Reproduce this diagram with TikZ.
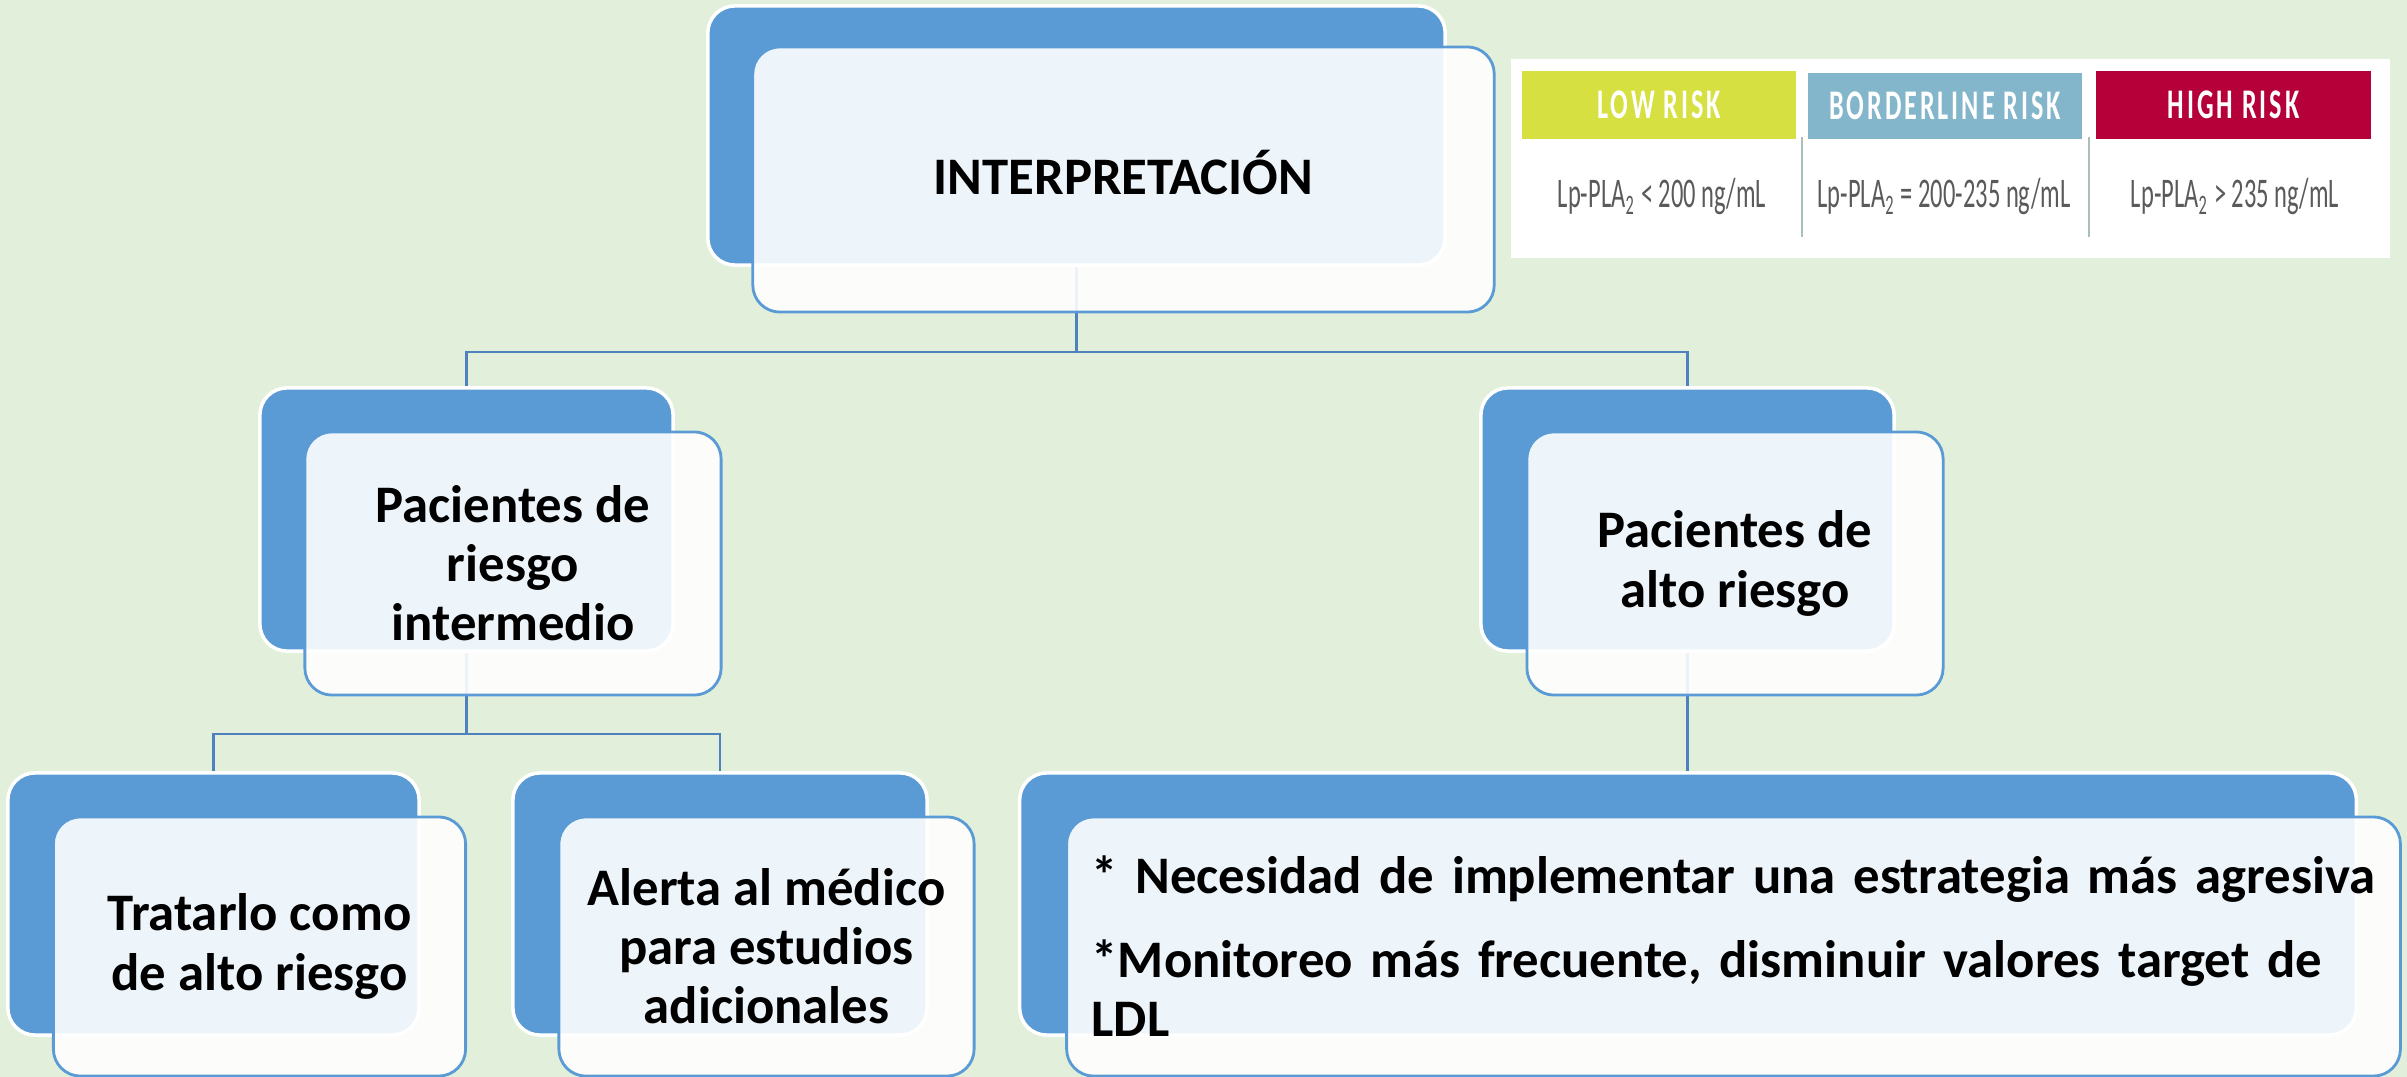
\documentclass[tikz,border=0pt]{standalone}
\usepackage{fontspec}
\setmainfont{Carlito}
\newfontfamily\riskhead[FakeStretch=0.62,LetterSpace=7]{Carlito}
\newfontfamily\riskval[FakeStretch=0.58]{Carlito}
\usepackage{xcolor}
\definecolor{bggreen}{HTML}{E2EFDA}
\definecolor{cardblue}{HTML}{5B9BD5}
\definecolor{linkblue}{HTML}{4F81BD}
\definecolor{lowrisk}{HTML}{D6E040}
\definecolor{midrisk}{HTML}{84B6CB}
\definecolor{highrisk}{HTML}{B5003A}
\definecolor{valgray}{HTML}{5A5A5A}
\definecolor{rulegray}{HTML}{A8C0B8}
\usetikzlibrary{backgrounds}

\begin{document}
\begin{tikzpicture}[x=0.01cm,y=-0.01cm,
    backcard/.style={draw=white, line width=1pt, fill=cardblue, rounded corners=0.27cm, inner sep=0pt},
    frontcard/.style={draw=cardblue, line width=0.8pt, fill=white, fill opacity=0.9, text opacity=1,
        rounded corners=0.27cm, inner sep=0pt, align=center,
        font=\bfseries\fontsize{15}{16.8}\selectfont},
    link/.style={draw=linkblue, line width=0.8pt},
    riskhead/.style={inner sep=0pt, text=white, font=\riskhead\bfseries\fontsize{12}{13}\selectfont},
    riskval/.style={inner sep=0pt, text=valgray, anchor=base, font=\riskval\fontsize{12}{13}\selectfont}
    ]
    \useasboundingbox (0,0) rectangle (2407,1077);

    % risk table
    \node[fill=white, minimum width=8.79cm, minimum height=1.99cm, inner sep=0pt] (tab) at (1950.5,158.5) {};
    \node[riskhead, fill=lowrisk, minimum width=2.74cm, minimum height=0.68cm] (low) at (1659,105) {LOW RISK};
    \node[riskhead, fill=midrisk, minimum width=2.74cm, minimum height=0.66cm] (mid) at (1945,106) {BORDERLINE RISK};
    \node[riskhead, fill=highrisk, minimum width=2.75cm, minimum height=0.68cm] (high) at (2233.5,105) {HIGH RISK};
    \node[riskval] (lowval) at (1662,208) {Lp-PLA\textsubscript{2} < 200 ng/mL};
    \node[riskval] (midval) at (1944,208) {Lp-PLA\textsubscript{2} = 200-235 ng/mL};
    \node[riskval] (highval) at (2235,208) {Lp-PLA\textsubscript{2} > 235 ng/mL};
    \draw[rulegray, line width=0.8pt] (1802,137) -- (1802,237) (2089,137) -- (2089,237);

    % cards
    \node[backcard, minimum width=7.37cm, minimum height=2.59cm] (top-b) at (1076.5,135.5) {};
    \node[frontcard, minimum width=7.41cm, minimum height=2.65cm] (top) at (1123.5,179.5) {\raisebox{0.15cm}{INTERPRETACIÓN}};

    \node[backcard, minimum width=4.13cm, minimum height=2.63cm] (ml-b) at (466.5,519.5) {};
    \node[frontcard, minimum width=4.16cm, minimum height=2.63cm] (ml) at (513,563.5) {Pacientes de\\riesgo\\intermedio};

    \node[backcard, minimum width=4.13cm, minimum height=2.63cm] (mr-b) at (1687.5,519.5) {};
    \node[frontcard, minimum width=4.16cm, minimum height=2.63cm] (mr) at (1735,563.5) {Pacientes de\\alto riesgo};

    \node[backcard, minimum width=4.11cm, minimum height=2.62cm] (bl-b) at (213.5,904) {};
    \node[frontcard, minimum width=4.12cm, minimum height=2.59cm] (bl) at (259.5,946.5) {Tratarlo como\\de alto riesgo};

    \node[backcard, minimum width=4.14cm, minimum height=2.62cm] (bm-b) at (720,904) {};
    \node[frontcard, minimum width=4.15cm, minimum height=2.59cm] (bm) at (766.5,946.5) {Alerta al médico\\para estudios\\adicionales};

    \node[backcard, minimum width=13.36cm, minimum height=2.62cm] (br-b) at (1688,904) {};
    \node[frontcard, minimum width=13.33cm, minimum height=2.59cm, align=left, text width=12.83cm] (br) at (1733.5,946.5)
        {\raisebox{0.05cm}{* Necesidad de implementar una estrategia más agresiva}\\[0.2cm]*Monitoreo más frecuente, disminuir valores target de\\LDL\\[-0.08cm]};

    \begin{scope}[on background layer]
    \fill[bggreen] (0,0) rectangle (2407,1077);
    \coordinate (bus1) at (0,352);
    \coordinate (bus2) at (0,734);
    \draw[link] (top-b.south) -- (top-b.south |- bus1) -| (ml-b.north)
        (top-b.south |- bus1) -| (mr-b.north)
        (ml-b.south) -- (ml-b.south |- bus2) -| (bl-b.north)
        (ml-b.south |- bus2) -| (bm-b.north)
        (mr-b.south) -- (mr-b.south |- br-b.north);
    \end{scope}
\end{tikzpicture}
\end{document}
